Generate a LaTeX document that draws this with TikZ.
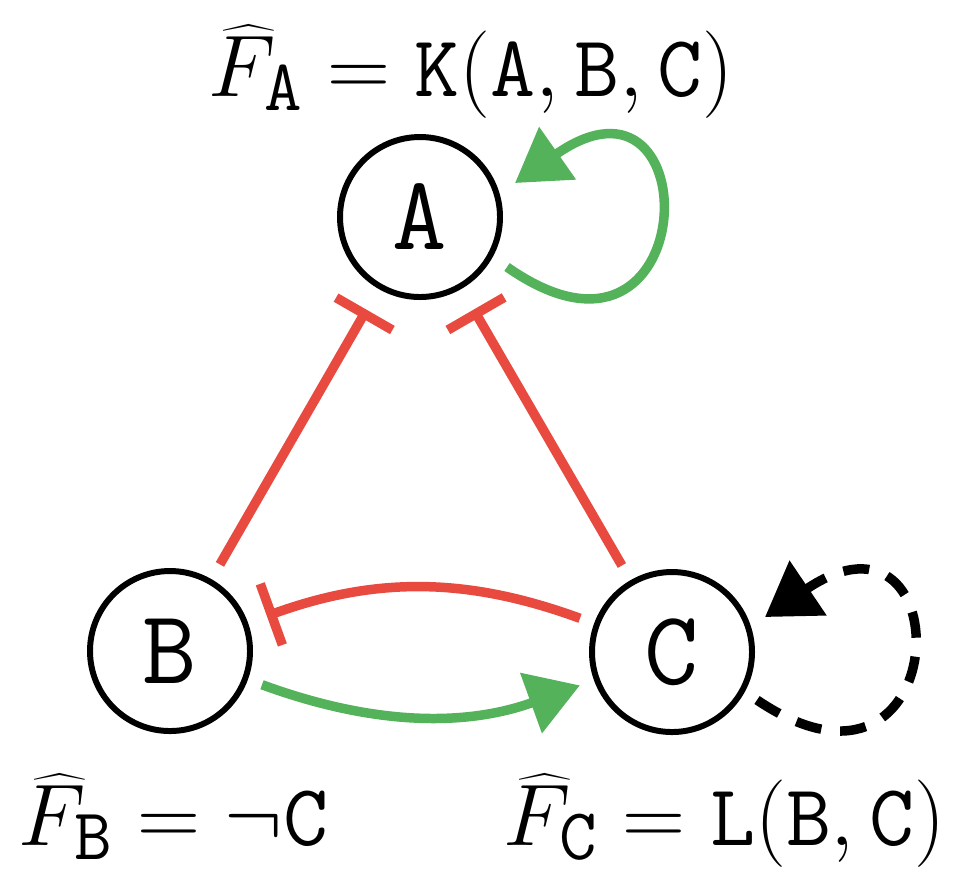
\documentclass[tikz,border=0pt]{standalone}
\usetikzlibrary{arrows.meta,calc}
\definecolor{inhred}{RGB}{232,74,63}
\definecolor{actgreen}{RGB}{84,178,90}
\begin{document}
\begin{tikzpicture}[x=1cm,y=1cm,
  gene/.style={circle,draw=black,line width=1.7pt,minimum size=1.6cm,inner sep=0pt,
    font=\fontsize{30}{36}\selectfont\ttfamily},
  inh/.style={draw=inhred,line width=2.7pt,-{Bar[width=0.65cm,line width=2.7pt]}},
  act/.style={draw=actgreen,line width=2.7pt,-{Triangle[length=0.52cm,width=0.62cm]}},
  unk/.style={draw=black,line width=2.7pt,dash pattern=on 0.26cm off 0.19cm,-{Triangle[length=0.52cm,width=0.64cm]}},
  eqn/.style={inner sep=0pt,font=\fontsize{28}{32}\selectfont}
]
\useasboundingbox[fill=white] (0,0) rectangle (9.54,-8.82);
\node[gene] (A) at (4.20,-2.17) {A};
\node[gene] (B) at (1.70,-6.51) {B};
\node[gene] (C) at (6.72,-6.52) {C};

\node[eqn,anchor=base] (fa) at (4.71,-0.96) {$\widehat{F}_{\mathtt{A}} = \mathtt{K}(\mathtt{A},\mathtt{B},\mathtt{C})$};
\node[eqn,anchor=base west] (fb) at (0.18,-8.45) {$\widehat{F}_{\mathtt{B}} = \neg\mathtt{C}$};
\node[eqn,anchor=base east] (fc) at (9.46,-8.45) {$\widehat{F}_{\mathtt{C}} = \mathtt{L}(\mathtt{B},\mathtt{C})$};

% inhibitions
\draw[inh,shorten <=0.17cm,shorten >=0.24cm] (B) -- (A);
\draw[inh,shorten <=0.17cm,shorten >=0.24cm] (C) -- (A);
\draw[inh,shorten <=0.15cm,shorten >=0.2cm] (C) to[bend right=20] (B);
% activation B -> C
\draw[act,shorten <=0.15cm,shorten >=0.15cm] (B) to[bend right=20] (C);
% self loops
\draw[act] ($(A.center)+(0.87,-0.50)$) .. controls +(-35:2.4) and +(35:2.4) .. ($(A.center)+(0.95,0.34)$);
\draw[unk] ($(C.center)+(0.85,-0.48)$) .. controls +(-34:2.4) and +(34:2.4) .. ($(C.center)+(0.93,0.35)$);
\end{tikzpicture}
\end{document}
